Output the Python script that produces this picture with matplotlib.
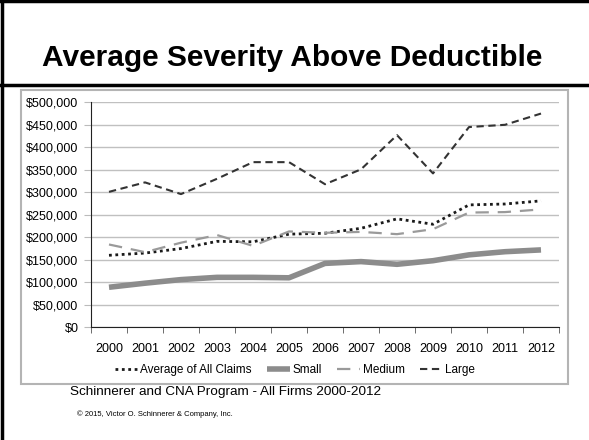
import matplotlib.pyplot as plt
from matplotlib.patches import Rectangle
from matplotlib.lines import Line2D
from matplotlib.ticker import FuncFormatter
import numpy as np

# dados
anos = ['2000', '2001', '2002', '2003', '2004', '2005', '2006',
        '2007', '2008', '2009', '2010', '2011', '2012']
media = [160000, 165000, 175000, 191000, 190000, 207000, 209000,
         220000, 241000, 229000, 272000, 274000, 281000]
pequeno = [89000, 98000, 106000, 111000, 111000, 110000, 142000,
           146000, 140000, 148000, 161000, 168000, 172000]
medio = [184000, 167000, 188000, 205000, 181000, 213000, 210000,
         212000, 207000, 218000, 255000, 256000, 262000]
grande = [301000, 322000, 296000, 330000, 367000, 367000, 318000,
          351000, 427000, 342000, 445000, 450000, 475000]

W, H = 589, 440
fig = plt.figure(figsize=(W / 100, H / 100), dpi=100)

def fx(px):
    return px / W

def fy(py):
    return 1 - py / H

# bordas do slide
fig.add_artist(Line2D([0, 1], [fy(1.5), fy(1.5)], color='black', lw=2.5))
fig.add_artist(Line2D([fx(1.5), fx(1.5)], [0, 1], color='black', lw=2.5))
fig.add_artist(Line2D([0, 1], [fy(85.5), fy(85.5)], color='black', lw=2.5))

fig.text(fx(292), fy(58), 'Average Severity Above Deductible', ha='center', va='center',
         fontsize=21.5, fontweight='bold', family='Liberation Sans')

# caixa do grafico
fig.add_artist(Rectangle((fx(21), fy(384)), fx(568) - fx(21), fy(90) - fy(384),
                         fill=False, edgecolor='#b4b4b4', lw=1.5))

ax = fig.add_axes([fx(91), fy(327.3), fx(559) - fx(91), fy(102.3) - fy(327.3)])
x = np.arange(len(anos))

ax.plot(x, media, color='#1a1a1a', lw=2, linestyle=(0, (1, 1.3)), label='Average of All Claims')
ax.plot(x, pequeno, color='#8c8c8c', lw=4, solid_capstyle='butt', label='Small')
ax.plot(x, medio, color='#9a9a9a', lw=1.6, linestyle=(0, (6, 4)), label='Medium')
ax.plot(x, grande, color='#333333', lw=1.5, linestyle=(0, (3.5, 2.2)), label='Large')

ax.set_xlim(-0.5, len(anos) - 0.5)
ax.set_ylim(0, 500000)
ax.set_yticks(np.arange(0, 500001, 50000))
ax.yaxis.set_major_formatter(FuncFormatter(lambda v, p: '${:,.0f}'.format(v)))
ax.set_xticks(x)
ax.set_xticklabels(anos)
ax.set_xticks(np.arange(-0.5, len(anos), 1), minor=True)
ax.tick_params(axis='x', which='major', length=0, pad=11, labelsize=9)
ax.tick_params(axis='x', which='minor', length=4, color='#555555', direction='out')
ax.tick_params(axis='y', length=5, color='#bbbbbb', labelsize=9, pad=4)
for lab in ax.get_xticklabels() + ax.get_yticklabels():
    lab.set_family('Liberation Sans')

ax.grid(axis='y', color='#c0c0c0', lw=1)
ax.set_axisbelow(True)
for s in ['top', 'right']:
    ax.spines[s].set_visible(False)
ax.spines['left'].set_color('#222222')
ax.spines['bottom'].set_color('#222222')

fig.legend(loc='center', bbox_to_anchor=(fx(295), fy(370)), ncol=4, frameon=False,
           prop={'family': 'Liberation Sans', 'size': 8.5}, handlelength=1.9,
           handletextpad=0.25, columnspacing=1.3)

fig.text(fx(70), fy(392), 'Schinnerer and CNA Program - All Firms 2000-2012',
         ha='left', va='center', fontsize=9.7, family='Liberation Sans')
fig.text(fx(77), fy(414), '\u00a9 2015, Victor O. Schinnerer & Company, Inc.',
         ha='left', va='center', fontsize=5.5, family='Liberation Sans')

plt.savefig('out.png', dpi=100)
